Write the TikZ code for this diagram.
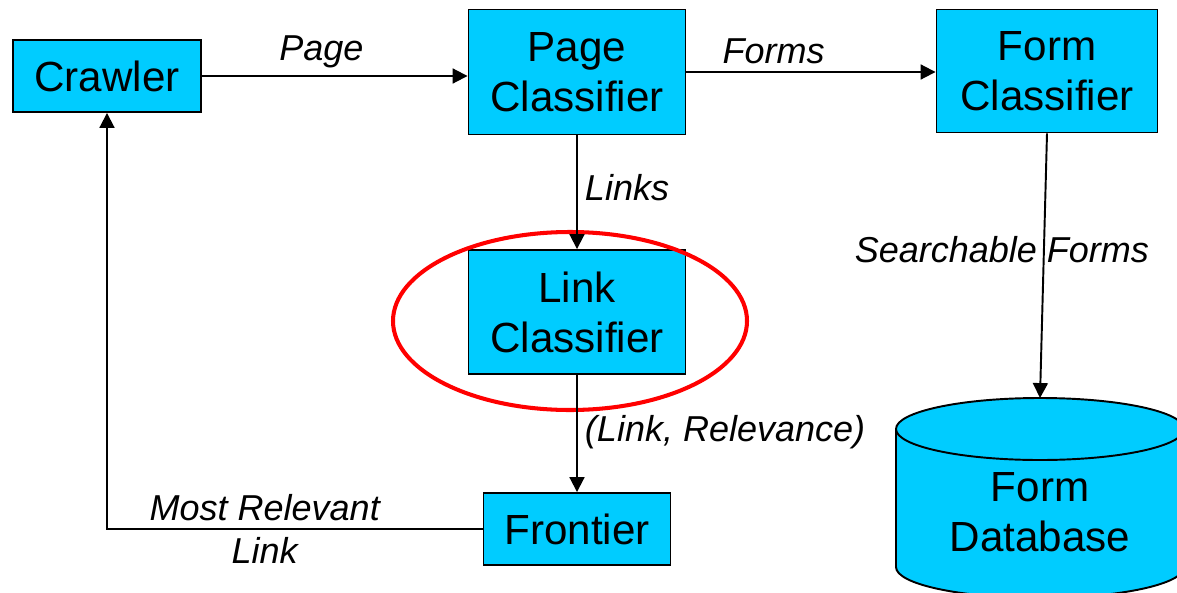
\documentclass[tikz,border=0pt]{standalone}
\usepackage{fontspec}
\setmainfont{Liberation Sans}
\usetikzlibrary{arrows.meta}
\definecolor{boxcyan}{HTML}{00CCFF}

\begin{document}
\begin{tikzpicture}[x=0.02cm,y=-0.02cm,
    box/.style={draw=black, line width=1.1pt, fill=boxcyan, inner sep=0pt, align=center, font=\fontsize{24}{28.5}\selectfont},
    boxtext/.style={inner sep=0pt, align=center, font=\fontsize{24}{28.5}\selectfont},
    lbl/.style={font=\fontsize{20.5}{24.5}\selectfont\itshape, inner sep=4pt},
    flow/.style={line width=1.1pt, -{Triangle[length=8.5pt,width=8.5pt]}}]
  \useasboundingbox (0,0) rectangle (1177,592);

  % components
  \node[box, minimum width=3.76cm, minimum height=1.44cm] (crawler) at (107,76) {Crawler};
  \node[box, minimum width=4.34cm, minimum height=2.5cm] (pagecls) at (577,72) {Page\\Classifier};
  \node[box, minimum width=4.42cm, minimum height=2.46cm] (formcls) at (1047,71) {Form\\Classifier};
  \node[box, minimum width=4.34cm, minimum height=2.48cm] (linkcls) at (577,312) {Link\\Classifier};
  \node[box, minimum width=3.74cm, minimum height=1.44cm] (frontier) at (577,529) {Frontier};

  % database cylinder
  \fill[boxcyan] (896,429) -- (896,567) arc[start angle=180, end angle=360, x radius=144, y radius=-31] -- (1184,429) -- cycle;
  \draw[line width=1.1pt] (896,429) -- (896,567) arc[start angle=180, end angle=360, x radius=144, y radius=-31] -- (1184,429);
  \draw[line width=1.1pt, fill=boxcyan] (1040,429) ellipse [x radius=144, y radius=31];
  \coordinate (dbtop) at (1040,398);
  \node[boxtext] (formdb) at (1040,512) {Form\\Database};

  % highlight
  \draw[red, line width=2.3pt] (570,321) ellipse [x radius=177, y radius=89];

  % connectors
  \draw[flow] (crawler.east) -- node[lbl, above, pos=0.45] {Page} (crawler.east -| pagecls.west);
  \draw[flow] (pagecls.east) -- node[lbl, above, pos=0.35] {Forms} (pagecls.east -| formcls.west);
  \draw[flow] (pagecls) -- node[lbl, right, pos=0.46] {Links} (linkcls);
  \draw[flow] (formcls.south) -- node[lbl, pos=0.44, xshift=-0.84cm] {Searchable Forms} (dbtop);
  \draw[flow] (linkcls) -- node[lbl, right, pos=0.49] {(Link, Relevance)} (frontier);
  \draw[flow] (frontier.west) -| node[lbl, pos=0.29, align=center] {Most Relevant\\Link} (crawler.south);
\end{tikzpicture}
\end{document}
